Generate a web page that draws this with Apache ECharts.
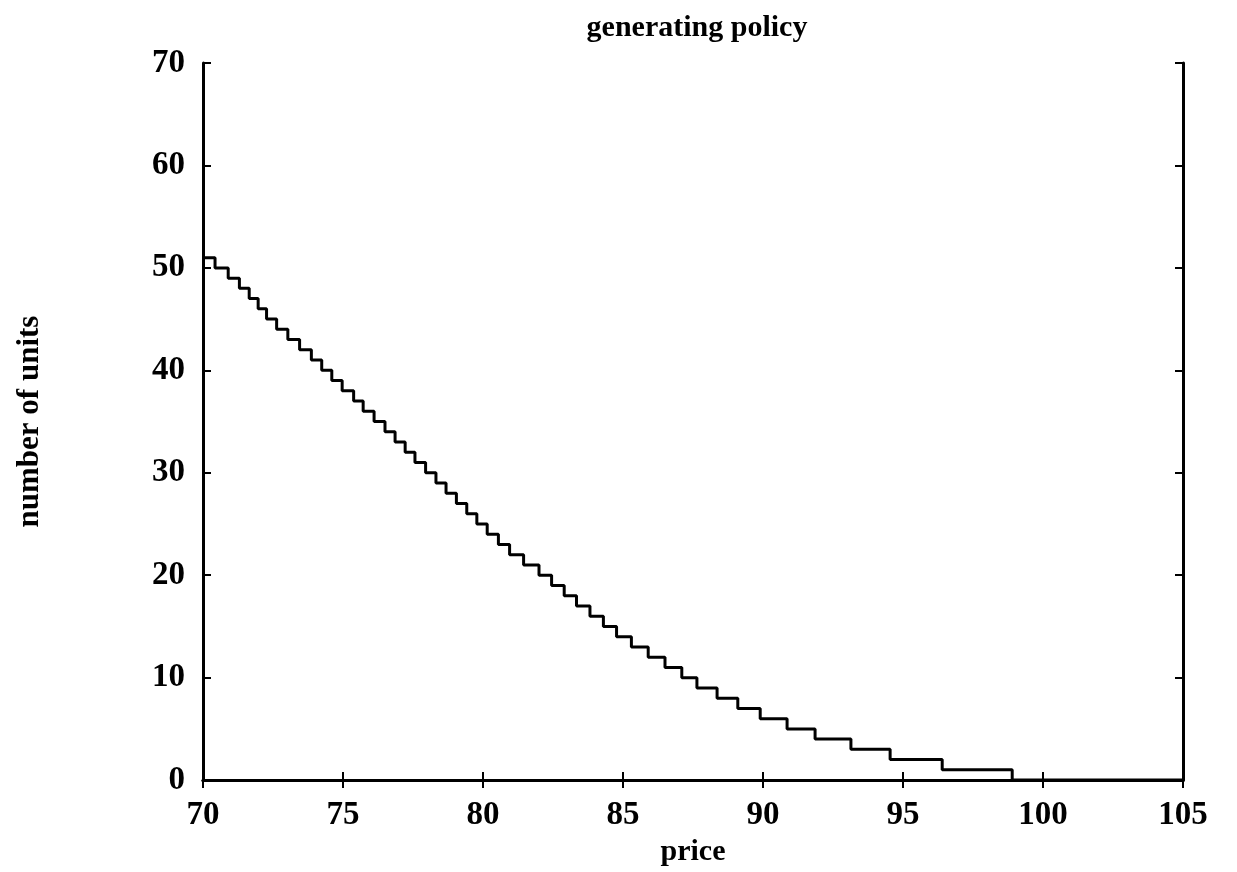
<!DOCTYPE html>
<html>
<head>
<meta charset="utf-8">
<script src="https://cdn.jsdelivr.net/npm/echarts@6/dist/echarts.min.js"></script>
<style>
  html, body { margin: 0; padding: 0; background: #fff; }
  #chartWrap { width: 1237px; height: 872px; }
</style>
</head>
<body>
<div id="chartWrap"></div>
<script>
// price at which each level starts (step drops)
var stepPrice = [70, 70.43, 70.9, 71.3, 71.65, 71.97, 72.27, 72.63, 73.03, 73.45,
                 73.87, 74.24, 74.6, 74.97, 75.38, 75.72, 76.11, 76.5, 76.86, 77.22,
                 77.57, 77.95, 78.32, 78.68, 79.05, 79.42, 79.78, 80.15, 80.55, 80.95,
                 81.45, 82.0, 82.45, 82.9, 83.34, 83.82, 84.3, 84.77, 85.3, 85.9,
                 86.5, 87.1, 87.64, 88.36, 89.1, 89.9, 90.86, 91.86, 93.14, 94.54,
                 96.4, 98.9, 105];
var stepUnits = [51, 50, 49, 48, 47, 46, 45, 44, 43, 42,
                 41, 40, 39, 38, 37, 36, 35, 34, 33, 32,
                 31, 30, 29, 28, 27, 26, 25, 24, 23, 22,
                 21, 20, 19, 18, 17, 16, 15, 14, 13, 12,
                 11, 10, 9, 8, 7, 6, 5, 4, 3, 2,
                 1, 0, 0];
var xTicks = [70, 75, 80, 85, 90, 95, 100, 105];
var yTicks = [0, 10, 20, 30, 40, 50, 60, 70];

var dom = document.getElementById('chartWrap');
var myChart = echarts.init(dom);

var data = [];
for (var i = 0; i < stepPrice.length; i++) {
	data.push([stepPrice[i], stepUnits[i]]);
}

var font = 'Liberation Serif';
var lineSt = { color: '#000', width: 3 };
var tickSt = { show: true, inside: true, length: 8, lineStyle: { color: '#000', width: 2 } };

var option = {
	backgroundColor: '#fff',
	animation: false,
	title: {
		text: 'generating policy',
		left: 692,
		top: 8,
		textAlign: 'center',
		textStyle: { fontFamily: font, fontWeight: 'bold', fontSize: 30, color: '#000' }
	},
	grid: { left: 203, right: 54, top: 63, bottom: 90 },
	xAxis: [{
		type: 'value',
		min: xTicks[0],
		max: xTicks[xTicks.length - 1],
		interval: 5,
		name: 'price',
		nameLocation: 'middle',
		nameGap: 56,
		nameTextStyle: { fontFamily: font, fontWeight: 'bold', fontSize: 30, color: '#000' },
		axisLine: { lineStyle: lineSt },
		axisTick: tickSt,
		axisLabel: { fontFamily: font, fontWeight: 'bold', fontSize: 33, color: '#000', margin: 19 },
		splitLine: { show: false }
	}, {
		type: 'value',
		position: 'top',
		min: xTicks[0],
		max: xTicks[xTicks.length - 1],
		interval: 5,
		axisLine: { show: true, lineStyle: lineSt },
		axisTick: tickSt,
		axisLabel: { show: false },
		splitLine: { show: false }
	}],
	yAxis: [{
		type: 'value',
		min: yTicks[0],
		max: yTicks[yTicks.length - 1],
		interval: 10,
		name: 'number of units',
		nameLocation: 'middle',
		nameGap: 158,
		nameTextStyle: { fontFamily: font, fontWeight: 'bold', fontSize: 31, color: '#000' },
		axisLine: { lineStyle: lineSt },
		axisTick: tickSt,
		axisLabel: { fontFamily: font, fontWeight: 'bold', fontSize: 33, color: '#000', margin: 18 },
		splitLine: { show: false }
	}, {
		type: 'value',
		position: 'right',
		min: yTicks[0],
		max: yTicks[yTicks.length - 1],
		interval: 10,
		axisLine: { show: true, lineStyle: lineSt },
		axisTick: tickSt,
		axisLabel: { show: false },
		splitLine: { show: false }
	}],
	series: [{
		type: 'line',
		step: 'end',
		data: data,
		showSymbol: false,
		lineStyle: { color: '#000', width: 3 }
	}]
};

myChart.setOption(option, true);
</script>
</body>
</html>
